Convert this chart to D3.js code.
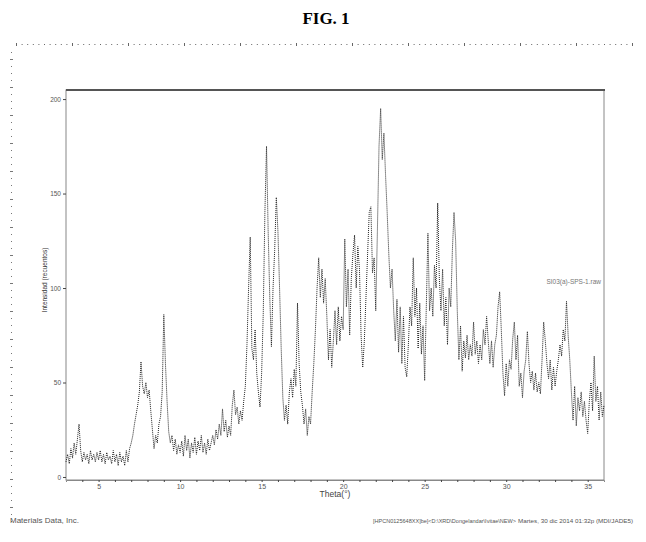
<!DOCTYPE html>
<html>
<head>
<meta charset="utf-8">
<script src="https://cdn.jsdelivr.net/npm/d3@7"></script>
<style>
  body { margin: 0; background: #fff; }
  svg { display: block; }
</style>
</head>
<body>
<div id="chart"></div>
<script>
// scan settings: 2-theta start and step of the intensity list
const thetaStart = 3.0;
const thetaStep = 0.1;

// intensities (counts), one row per degree, 3.0 -> 36.0
const intensity = [
  8, 12, 7, 15, 10, 18, 12, 20, 28, 14,          // 3
  8, 13, 9, 12, 7, 14, 9, 12, 8, 13,             // 4
  9, 14, 8, 12, 7, 13, 9, 11, 7, 14,             // 5
  8, 12, 6, 13, 8, 11, 6, 14, 8, 15,             // 6
  18, 22, 28, 33, 38, 45, 61, 48, 44, 50,        // 7
  42, 46, 35, 25, 15, 22, 18, 28, 32, 45,        // 8
  86, 60, 40, 24, 18, 22, 14, 20, 12, 17,        // 9
  13, 19, 11, 22, 14, 20, 10, 18, 13, 21,        // 10
  12, 19, 14, 22, 13, 18, 12, 20, 14, 18,        // 11
  22, 17, 25, 20, 28, 22, 36, 24, 30, 21,        // 12
  27, 22, 38, 46, 33, 37, 28, 35, 30, 40,        // 13
  48, 70, 100, 127, 68, 62, 78, 55, 45, 37,      // 14
  55, 87, 140, 175, 130, 95, 69, 100, 120, 148,  // 15
  130, 100, 68, 42, 30, 38, 28, 45, 52, 42,      // 16
  57, 48, 92, 60, 45, 38, 28, 36, 22, 32,        // 17
  28, 45, 60, 78, 100, 116, 95, 110, 92, 105,    // 18
  85, 62, 78, 58, 72, 88, 70, 90, 72, 85,        // 19
  78, 126, 90, 110, 75, 105, 118, 128, 100, 122, // 20
  110, 75, 58, 72, 95, 118, 140, 143, 108, 116,  // 21
  88, 130, 175, 195, 168, 182, 160, 140, 118, 100, // 22
  110, 88, 72, 94, 66, 90, 60, 85, 58, 53,       // 23
  70, 90, 80, 116, 85, 100, 68, 92, 65, 80,      // 24
  51, 90, 129, 88, 100, 85, 112, 100, 145, 105,  // 25
  88, 110, 80, 95, 70, 100, 90, 120, 140, 125,   // 26
  88, 62, 80, 56, 72, 63, 75, 62, 70, 64,        // 27
  82, 65, 72, 60, 70, 62, 78, 70, 85, 72,        // 28
  60, 72, 58, 70, 75, 90, 98, 78, 55, 43,        // 29
  60, 48, 62, 57, 73, 82, 62, 75, 48, 55,        // 30
  42, 56, 62, 77, 60, 50, 56, 46, 55, 45,        // 31
  50, 44, 62, 82, 72, 60, 52, 62, 46, 58,        // 32
  48, 56, 62, 70, 64, 78, 72, 93, 75, 62,        // 33
  45, 30, 48, 27, 42, 35, 45, 32, 40, 30,        // 34
  23, 40, 50, 35, 64, 40, 48, 30, 45, 32,        // 35
  38                                             // 36
];

const xTicks = [5, 10, 15, 20, 25, 30, 35];
const yTicks = [0, 50, 100, 150, 200];
const seriesName = "SI03(a)-SPS-1.raw";

const W = 646, H = 542;
const plot = { left: 66, right: 604, top: 90, bottom: 480 };

const svg = d3.select("#chart")
  .append("svg")
  .attr("width", W)
  .attr("height", H);

const x = d3.scaleLinear()
  .domain([3, 36])
  .range([plot.left, plot.right]);

const y = d3.scaleLinear()
  .domain([-1.6, 204.8])
  .range([plot.bottom, plot.top]);

// page title
svg.append("text")
  .attr("x", 326)
  .attr("y", 24)
  .attr("text-anchor", "middle")
  .style("font-family", "Liberation Serif, serif")
  .style("font-weight", "bold")
  .style("font-size", "17px")
  .text("FIG. 1");

// dotted page rulers (top and left)
const topRule = svg.append("g").attr("fill", "#666");
d3.range(16, 634, 5.6).forEach((px, i) => {
  const tall = i % 10 === 0;
  topRule.append("rect")
    .attr("x", px)
    .attr("y", tall ? 43 : 44)
    .attr("width", 1)
    .attr("height", tall ? 3 : 1);
});
const leftRule = svg.append("g").attr("fill", "#777");
d3.range(52, 522, 7).forEach((py, i) => {
  const wide = i % 4 === 1;
  leftRule.append("rect")
    .attr("x", wide ? 10 : 11)
    .attr("y", py)
    .attr("width", wide ? 3 : 1)
    .attr("height", 1);
});

// frame
svg.append("rect")
  .attr("x", plot.left)
  .attr("y", plot.top)
  .attr("width", plot.right - plot.left)
  .attr("height", plot.bottom - plot.top)
  .attr("fill", "none")
  .attr("stroke", "#888")
  .attr("stroke-width", 1);
svg.append("line")
  .attr("x1", plot.left).attr("x2", plot.right + 1)
  .attr("y1", plot.top).attr("y2", plot.top)
  .attr("stroke", "#555")
  .attr("stroke-width", 1.8);

// axes
const xAxis = svg.append("g")
  .attr("transform", `translate(0,${plot.bottom})`)
  .call(d3.axisBottom(x).tickValues(d3.range(4, 36, 1)).tickSize(2)
    .tickFormat(d => xTicks.includes(d) ? d : ""));
xAxis.select(".domain").attr("stroke", "#888");
xAxis.selectAll(".tick line").attr("stroke", "#444");
xAxis.selectAll(".tick text")
  .attr("dy", "0.55em")
  .attr("fill", "#555")
  .style("font-family", "Liberation Sans, Arial, sans-serif")
  .style("font-size", "7px");

const yAxis = svg.append("g")
  .attr("transform", `translate(${plot.left},0)`)
  .call(d3.axisLeft(y).tickValues(yTicks).tickSize(3).tickPadding(2));
yAxis.select(".domain").remove();
yAxis.selectAll(".tick line").attr("stroke", "#444");
yAxis.selectAll(".tick text")
  .attr("fill", "#555")
  .style("font-family", "Liberation Sans, Arial, sans-serif")
  .style("font-size", "6.5px");

// axis titles
svg.append("text")
  .attr("x", (plot.left + plot.right) / 2)
  .attr("y", 497)
  .attr("text-anchor", "middle")
  .attr("fill", "#444")
  .style("font-family", "Liberation Sans, Arial, sans-serif")
  .style("font-size", "8.5px")
  .text("Theta(°)");

svg.append("text")
  .attr("transform", "rotate(-90)")
  .attr("x", -280)
  .attr("y", 47)
  .attr("text-anchor", "middle")
  .attr("fill", "#333")
  .style("font-family", "Liberation Sans, Arial, sans-serif")
  .style("font-size", "6.5px")
  .text("Intensidad (recuentos)");

// diffraction pattern
const pattern = intensity.map((v, i) => ({ theta: thetaStart + i * thetaStep, v }));

svg.append("path")
  .datum(pattern)
  .attr("fill", "none")
  .attr("stroke", "#222")
  .attr("stroke-width", 1)
  .attr("stroke-dasharray", "1,1")
  .attr("d", d3.line().x(d => x(d.theta)).y(d => y(d.v)));

// series label
svg.append("text")
  .attr("x", 601)
  .attr("y", 284)
  .attr("text-anchor", "end")
  .attr("fill", "#777")
  .style("font-family", "Liberation Sans, Arial, sans-serif")
  .style("font-size", "6.5px")
  .text(seriesName);

// footer
svg.append("text")
  .attr("x", 10)
  .attr("y", 523)
  .attr("fill", "#555")
  .style("font-family", "Liberation Sans, Arial, sans-serif")
  .style("font-size", "8px")
  .text("Materials Data, Inc.");

svg.append("text")
  .attr("x", 373)
  .attr("y", 523)
  .attr("fill", "#555")
  .attr("textLength", 143)
  .attr("lengthAdjust", "spacingAndGlyphs")
  .style("font-family", "Liberation Sans, Arial, sans-serif")
  .style("font-size", "6px")
  .text("[HPCN0125648XX]be]<D:\\XRD\\Dongelandar\\Ivitae\\NEW>");

svg.append("text")
  .attr("x", 518)
  .attr("y", 523)
  .attr("fill", "#555")
  .attr("textLength", 115)
  .attr("lengthAdjust", "spacingAndGlyphs")
  .style("font-family", "Liberation Sans, Arial, sans-serif")
  .style("font-size", "6px")
  .text("Martes, 30 dic 2014 01:32p (MDI/JADE5)");
</script>
</body>
</html>
